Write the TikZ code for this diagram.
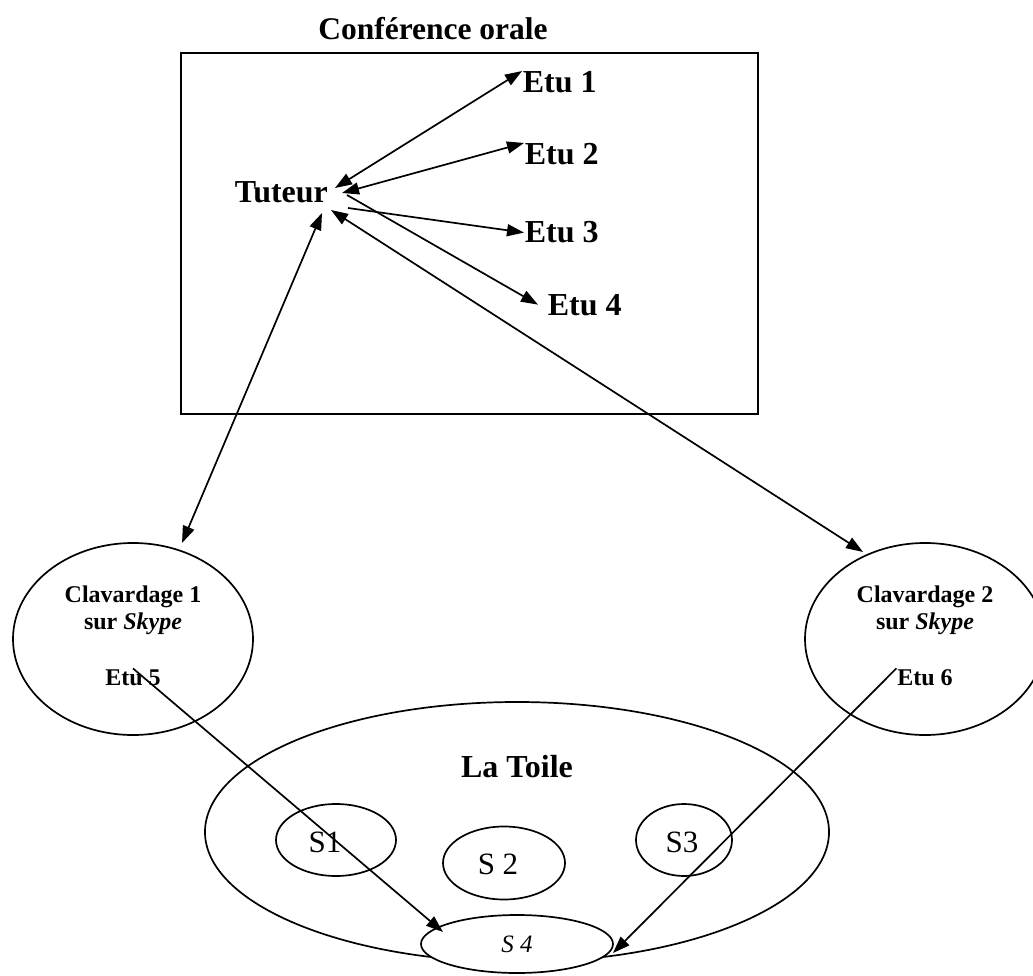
\documentclass[tikz,border=0pt]{standalone}
\usepackage{fontspec}
\setmainfont{Liberation Serif}
\usetikzlibrary{arrows.meta,shapes.geometric}
\begin{document}
\begin{tikzpicture}[x=1pt,y=-1pt, line width=1.7pt,
  lbl/.style={inner sep=0pt, font=\fontsize{32}{38}\selectfont\bfseries},
  small/.style={inner sep=0pt, font=\fontsize{24}{28}\selectfont\bfseries},
  site/.style={draw, ellipse, inner sep=0pt},
  stxt/.style={inner sep=0pt, font=\fontsize{31}{36}\selectfont},
  arr/.style={-{Triangle[length=17pt,width=12pt]}},
  darr/.style={{Triangle[length=17pt,width=12pt]}-{Triangle[length=17pt,width=12pt]}},
]
\useasboundingbox (0,0) rectangle (1033,976);

% conference box
\node[draw, minimum width=577pt, minimum height=361pt, inner sep=0pt, anchor=north west] (conf) at (180,52) {};
\node[lbl, anchor=base, font=\fontsize{31.5}{38}\selectfont\bfseries] (title) at (433,40) {Conférence orale};
\node[lbl, anchor=base west] (tut) at (234,203) {Tuteur};
\node[lbl, anchor=base west] (etu1) at (522,93) {Etu 1};
\node[lbl, anchor=base west] (etu2) at (524,165) {Etu 2};
\node[lbl, anchor=base west] (etu3) at (524,243) {Etu 3};
\node[lbl, anchor=base west] (etu4) at (547,315) {Etu 4};

% points at the tutor
\coordinate (h1) at (335,188);
\coordinate (h2) at (342,193);
\coordinate (h3) at (348,208);
\coordinate (h4) at (347,195);
\coordinate (hL) at (322,213);
\coordinate (hR) at (331,210);

% web
\node[site, minimum width=624pt, minimum height=260pt] (toile) at (517,832) {};
\node[lbl, anchor=base] (toilet) at (517,777) {La Toile};
\node[site, minimum width=120pt, minimum height=72pt] (s1) at (336,840) {};
\node[stxt] (s1t) at (325,842) {S1};
\node[site, minimum width=122pt, minimum height=73pt] (s2) at (504,863) {};
\node[stxt] (s2t) at (498,864) {S 2};
\node[site, minimum width=96pt, minimum height=72pt] (s3) at (684,840) {};
\node[stxt] (s3t) at (682,842) {S3};
\node[site, fill=white, minimum width=192pt, minimum height=58pt, font=\fontsize{25}{30}\selectfont\itshape] (s4) at (517,944) {S 4};

% chat ellipses
\node[site, minimum width=240pt, minimum height=192pt] (c1) at (133,639) {};
\node[small, anchor=base] (clav1) at (133,602) {Clavardage 1};
\node[small, anchor=base] (sur1) at (133,629) {sur \textit{Skype}};
\node[small, anchor=base] (etu5) at (133,685) {Etu 5};

\node[site, minimum width=240pt, minimum height=192pt] (c2) at (925,639) {};
\node[small, anchor=base] (clav2) at (925,602) {Clavardage 2};
\node[small, anchor=base] (sur2) at (925,629) {sur \textit{Skype}};
\node[small, anchor=base] (etu6) at (925,685) {Etu 6};

\coordinate (c1tip) at (182,543);
\coordinate (c2tip) at (863,552);
\coordinate (s4L) at (443,932);
\coordinate (s4R) at (613,953);

% connectors
\draw[darr] (h1) -- (etu1.north west);
\draw[darr] (h2) -- (etu2.north west);
\draw[arr] (h3) -- (etu3.west);
\draw[arr] (h4) -- ([xshift=-9pt]etu4.west);
\draw[darr] (hL) -- (c1tip);
\draw[darr] (hR) -- (c2tip);
\draw[arr] (etu5.north) -- (s4L);
\draw[arr] (etu6.north west) -- (s4R);
\end{tikzpicture}
\end{document}
